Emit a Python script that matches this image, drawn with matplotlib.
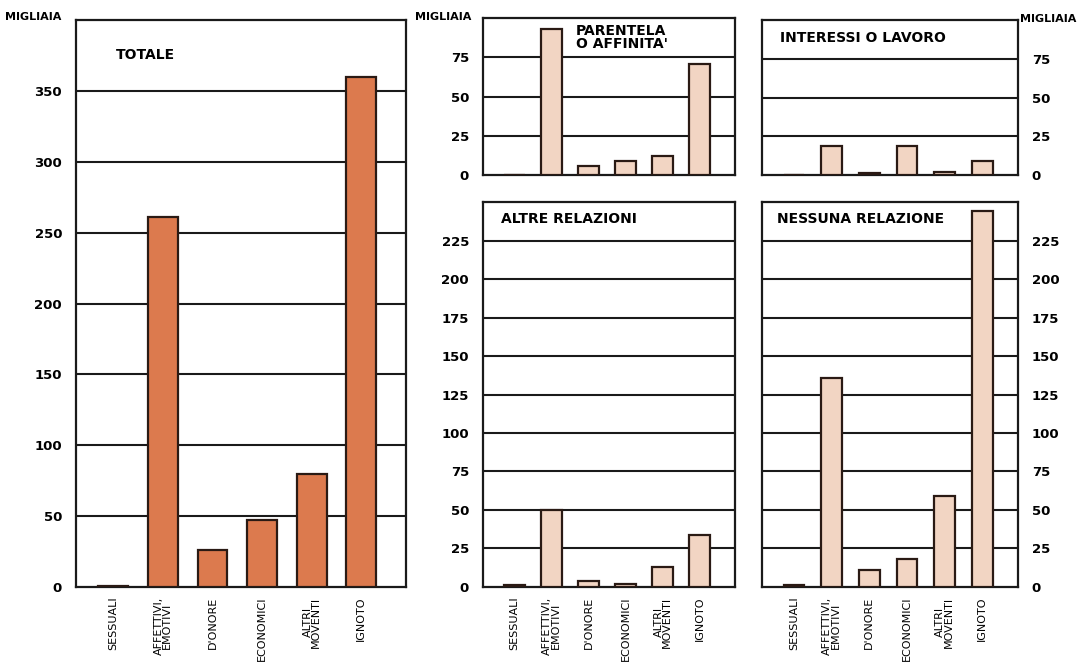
import matplotlib.pyplot as plt

plt.rcParams['font.family'] = ['DejaVu Sans']

categories = ["SESSUALI", "AFFETTIVI,\nEMOTIVI", "D'ONORE", "ECONOMICI", "ALTRI\nMOVENTI", "IGNOTO"]

totale = [1, 261, 26, 47, 80, 360]
parentela = [0, 93, 6, 9, 12, 71]
interessi = [0, 19, 1, 19, 2, 9]
altre = [1, 50, 4, 2, 13, 34]
nessuna = [1, 136, 11, 18, 59, 244]

dark = '#dc7a4e'
light = '#f2d5c3'

fig = plt.figure(figsize=(10.9, 6.69), dpi=100)
fig.patch.set_facecolor('white')


def panel(rect, values, color, ymax, ticks, title, tx, ty, right=False,
          width=0.55, xlim=(-0.85, 5.95), labels=False):
    ax = fig.add_axes(rect)
    x = range(len(values))
    ax.bar(x, values, width=width, color=color, edgecolor='#2a1a14',
           linewidth=1.6, zorder=3)
    ax.set_ylim(0, ymax)
    ax.set_xlim(*xlim)
    ax.set_yticks(ticks)
    for t in ticks[1:]:
        ax.axhline(t, color='#1a1a1a', lw=1.5, zorder=1)
    if right:
        ax.yaxis.tick_right()
    ax.tick_params(axis='y', length=0, labelsize=9.5, pad=10)
    for tk in ax.yaxis.get_major_ticks():
        tk.label1.set_fontweight('bold')
        tk.label2.set_fontweight('bold')
    if labels:
        ax.set_xticks(list(x))
        ax.set_xticklabels(categories, rotation=90, fontsize=8,
                           linespacing=0.8, va='top')
        ax.tick_params(axis='x', length=0, pad=7)
    else:
        ax.set_xticks([])
    for s in ax.spines.values():
        s.set_linewidth(1.6)
        s.set_color('#1a1a1a')
    ax.text(tx, ty, title, transform=ax.transAxes, fontsize=10,
            fontweight='bold', va='top', ha='left', linespacing=0.9)
    return ax


panel([0.0697, 0.1226, 0.3028, 0.8474], totale, dark, 400,
      [0, 50, 100, 150, 200, 250, 300, 350], "TOTALE", 0.12, 0.95,
      width=0.6, xlim=(-0.75, 5.9), labels=True)
panel([0.443, 0.7384, 0.2312, 0.2347], parentela, light, 100,
      [0, 25, 50, 75], "PARENTELA\nO AFFINITA'", 0.37, 0.96)
panel([0.699, 0.7384, 0.2349, 0.2317], interessi, light, 100,
      [0, 25, 50, 75], "INTERESSI O LAVORO", 0.07, 0.93, right=True)
panel([0.443, 0.1226, 0.2312, 0.5754], altre, light, 250,
      [0, 25, 50, 75, 100, 125, 150, 175, 200, 225], "ALTRE RELAZIONI",
      0.07, 0.975, labels=True)
panel([0.699, 0.1226, 0.2349, 0.5754], nessuna, light, 250,
      [0, 25, 50, 75, 100, 125, 150, 175, 200, 225], "NESSUNA RELAZIONE",
      0.06, 0.975, right=True, labels=True)

fig.text(0.005, 0.975, "MIGLIAIA", fontsize=8, fontweight='bold', va='center')
fig.text(0.381, 0.975, "MIGLIAIA", fontsize=8, fontweight='bold', va='center')
fig.text(0.936, 0.972, "MIGLIAIA", fontsize=8, fontweight='bold', va='center')

fig.savefig('out.png', dpi=100, facecolor='white')
